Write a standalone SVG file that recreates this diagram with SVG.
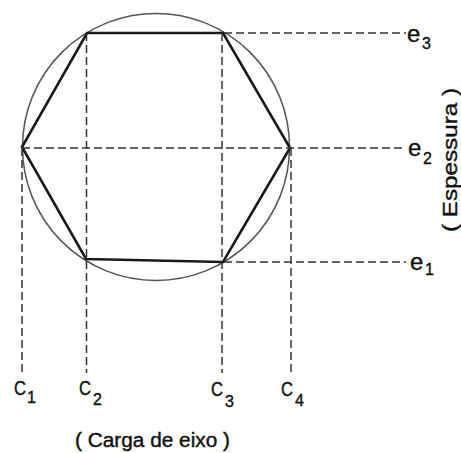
<svg xmlns="http://www.w3.org/2000/svg" width="461" height="453" viewBox="0 0 461 453">
<style>
.dash{fill:none;stroke:#333;stroke-width:1.5;stroke-dasharray:8 4}
.hex{fill:none;stroke:#1a1a1a;stroke-width:2.6;stroke-linejoin:miter}
.circ{fill:none;stroke:#555;stroke-width:1.5}
.lbl{font-family:"Liberation Sans",Arial,sans-serif;fill:#111;stroke:#111;stroke-width:0.4}
.c{font-size:20px}
.e{font-size:24px}
.sub{font-size:16px}
.cap{font-size:20px}
</style>
<rect width="461" height="453" fill="#fff"/>
<g id="circle"><circle class="circ" cx="156" cy="147" r="133.5"/></g>
<g id="hexagon"><polygon class="hex" points="87,33 223,33 290,148 223,262 86,259 22,147"/></g>
<g id="connectors">
<line class="dash" x1="224" y1="33" x2="406" y2="33"/>
<line class="dash" x1="22" y1="148" x2="406" y2="148"/>
<line class="dash" x1="224" y1="262" x2="406" y2="262"/>
<line class="dash" x1="22" y1="148" x2="22" y2="373"/>
<line class="dash" x1="86.5" y1="33" x2="86.5" y2="373"/>
<line class="dash" x1="222" y1="33" x2="222" y2="373"/>
<line class="dash" x1="291" y1="148" x2="291" y2="373"/>
</g>
<g id="e3" class="lbl"><text class="e" x="407" y="42">e</text><text class="sub" x="422" y="49">3</text></g>
<g id="e2" class="lbl"><text class="e" x="408" y="156">e</text><text class="sub" x="423" y="164">2</text></g>
<g id="e1" class="lbl"><text class="e" x="410" y="270">e</text><text class="sub" x="425" y="275">1</text></g>
<g id="c1" class="lbl"><text class="c" x="14" y="395" textLength="12" lengthAdjust="spacingAndGlyphs">C</text><text class="sub" x="27" y="403">1</text></g>
<g id="c2" class="lbl"><text class="c" x="79" y="395" textLength="12" lengthAdjust="spacingAndGlyphs">C</text><text class="sub" x="93" y="405">2</text></g>
<g id="c3" class="lbl"><text class="c" x="211" y="396" textLength="12" lengthAdjust="spacingAndGlyphs">C</text><text class="sub" x="225" y="407">3</text></g>
<g id="c4" class="lbl"><text class="c" x="281" y="396" textLength="12" lengthAdjust="spacingAndGlyphs">C</text><text class="sub" x="295" y="406">4</text></g>
<g id="xlabel" class="lbl"><text class="cap" x="75" y="447" textLength="155" lengthAdjust="spacingAndGlyphs">( Carga de  eixo )</text></g>
<g id="ylabel" class="lbl"><text class="cap" transform="translate(457,160) rotate(-90)" text-anchor="middle" textLength="144" lengthAdjust="spacingAndGlyphs">( Espessura )</text></g>
</svg>
